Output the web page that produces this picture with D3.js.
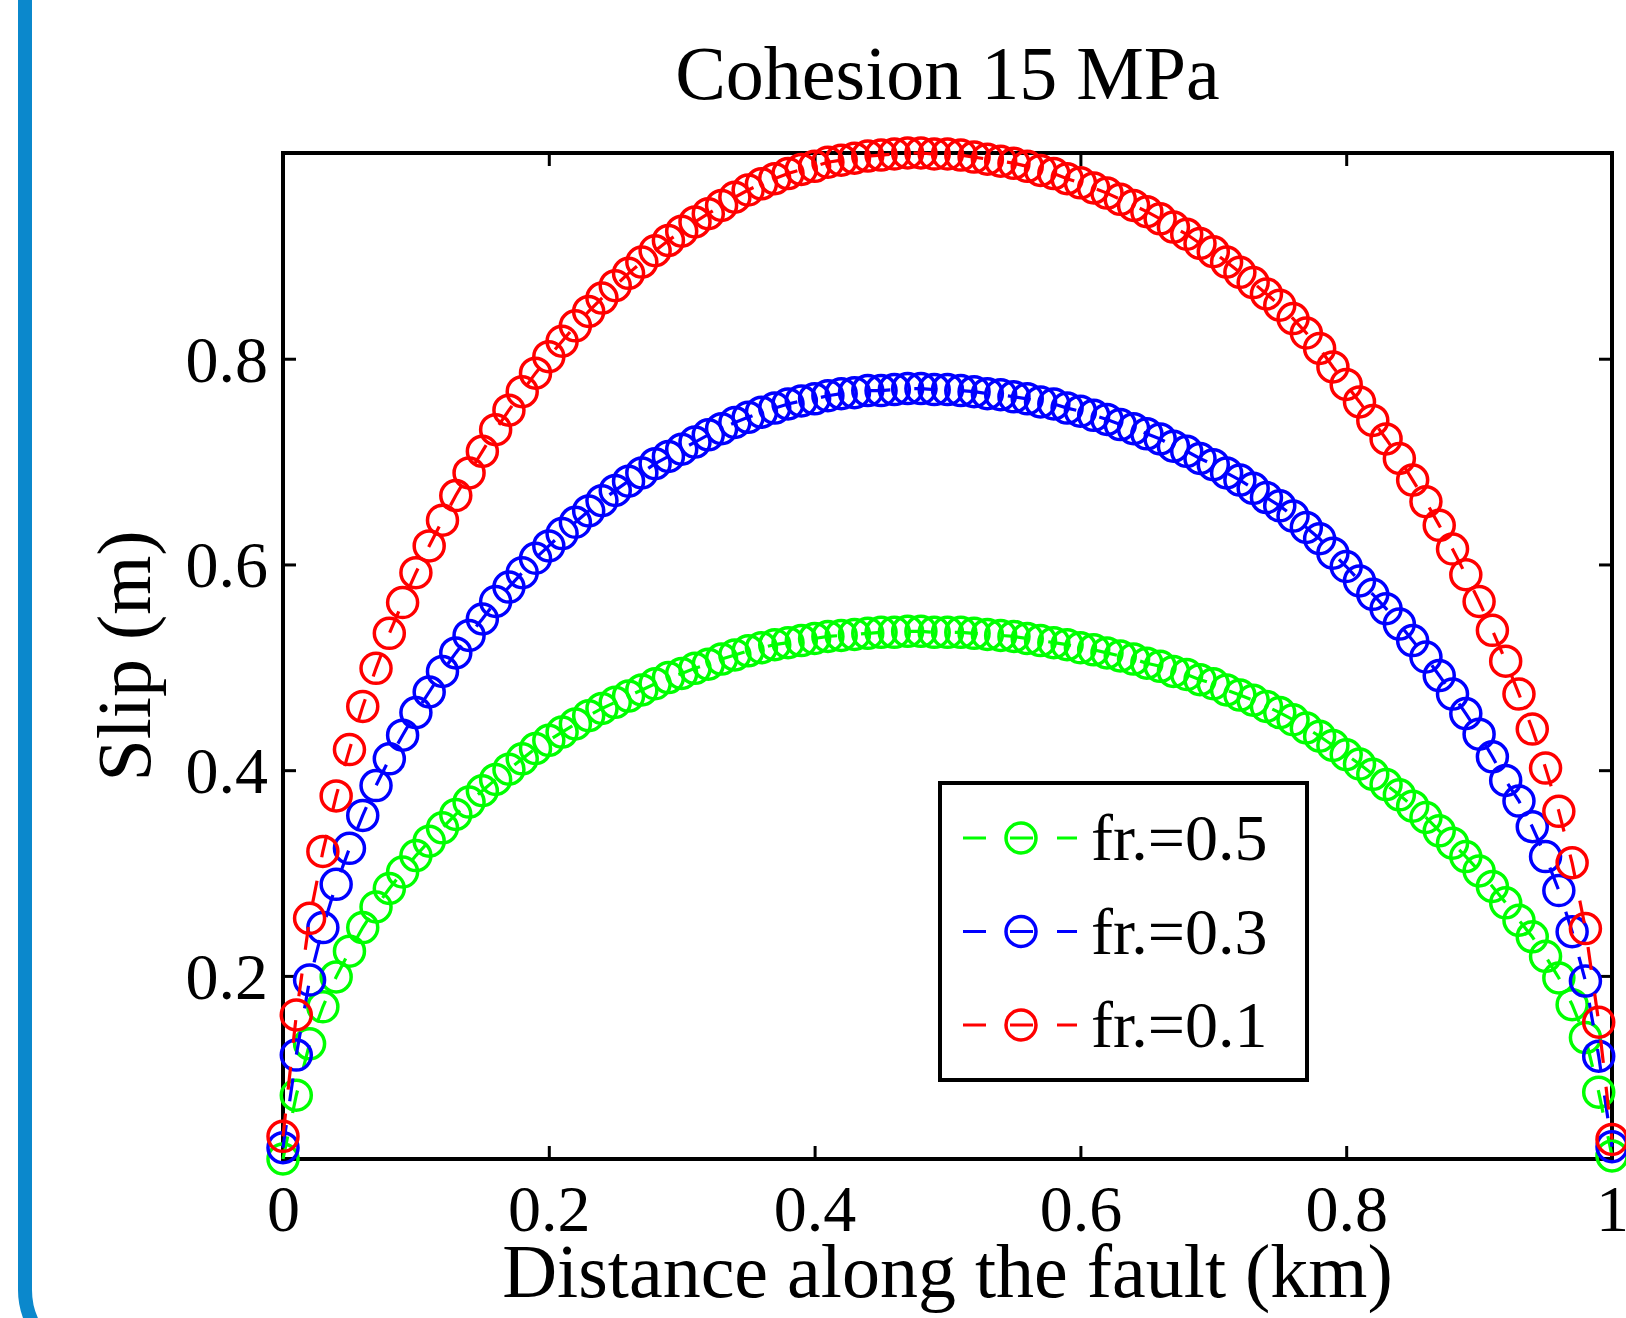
<!DOCTYPE html>
<html>
<head>
<meta charset="utf-8">
<script src="https://cdn.jsdelivr.net/npm/d3@7"></script>
<style>
  body { margin: 0; background: #fff; }
  svg { display: block; }
</style>
</head>
<body>
<div class="chartHolder"></div>
<script>
var distance = [0, 0.01, 0.02, 0.03, 0.04, 0.05, 0.06, 0.07, 0.08, 0.09,
  0.1, 0.11, 0.12, 0.13, 0.14, 0.15, 0.16, 0.17, 0.18, 0.19,
  0.2, 0.21, 0.22, 0.23, 0.24, 0.25, 0.26, 0.27, 0.28, 0.29,
  0.3, 0.31, 0.32, 0.33, 0.34, 0.35, 0.36, 0.37, 0.38, 0.39,
  0.4, 0.41, 0.42, 0.43, 0.44, 0.45, 0.46, 0.47, 0.48, 0.49,
  0.5, 0.51, 0.52, 0.53, 0.54, 0.55, 0.56, 0.57, 0.58, 0.59,
  0.6, 0.61, 0.62, 0.63, 0.64, 0.65, 0.66, 0.67, 0.68, 0.69,
  0.7, 0.71, 0.72, 0.73, 0.74, 0.75, 0.76, 0.77, 0.78, 0.79,
  0.8, 0.81, 0.82, 0.83, 0.84, 0.85, 0.86, 0.87, 0.88, 0.89,
  0.9, 0.91, 0.92, 0.93, 0.94, 0.95, 0.96, 0.97, 0.98, 0.99,
  1];

// slip (m), friction 0.5
var slipFr05 = [0.022, 0.084, 0.134, 0.170, 0.199, 0.224, 0.247, 0.267, 0.285, 0.301,
  0.317, 0.331, 0.344, 0.357, 0.369, 0.380, 0.391, 0.401, 0.411, 0.421,
  0.429, 0.437, 0.445, 0.453, 0.460, 0.466, 0.472, 0.478, 0.484, 0.490,
  0.494, 0.499, 0.503, 0.508, 0.512, 0.516, 0.519, 0.522, 0.524, 0.526,
  0.528, 0.530, 0.531, 0.532, 0.533, 0.534, 0.534, 0.535, 0.535, 0.534,
  0.534, 0.534, 0.533, 0.532, 0.531, 0.530, 0.528, 0.526, 0.524, 0.522,
  0.519, 0.517, 0.514, 0.511, 0.508, 0.504, 0.501, 0.496, 0.493, 0.488,
  0.484, 0.478, 0.473, 0.468, 0.462, 0.456, 0.449, 0.441, 0.433, 0.424,
  0.415, 0.406, 0.396, 0.386, 0.376, 0.365, 0.354, 0.341, 0.329, 0.316,
  0.302, 0.287, 0.271, 0.254, 0.238, 0.219, 0.198, 0.172, 0.140, 0.087,
  0.025];

// slip (m), friction 0.3
var slipFr03 = [0.033, 0.123, 0.196, 0.247, 0.289, 0.324, 0.356, 0.385, 0.411, 0.434,
  0.456, 0.476, 0.496, 0.514, 0.531, 0.547, 0.564, 0.578, 0.592, 0.606,
  0.618, 0.630, 0.641, 0.652, 0.662, 0.672, 0.681, 0.689, 0.698, 0.705,
  0.712, 0.719, 0.726, 0.732, 0.738, 0.743, 0.748, 0.752, 0.756, 0.759,
  0.761, 0.764, 0.766, 0.767, 0.769, 0.769, 0.770, 0.771, 0.771, 0.770,
  0.770, 0.769, 0.768, 0.766, 0.765, 0.763, 0.761, 0.758, 0.756, 0.752,
  0.749, 0.745, 0.741, 0.736, 0.732, 0.727, 0.722, 0.715, 0.710, 0.703,
  0.697, 0.689, 0.682, 0.674, 0.665, 0.657, 0.647, 0.636, 0.625, 0.611,
  0.598, 0.584, 0.571, 0.557, 0.542, 0.526, 0.510, 0.492, 0.474, 0.455,
  0.435, 0.413, 0.390, 0.370, 0.345, 0.316, 0.283, 0.243, 0.195, 0.122,
  0.034];

// slip (m), friction 0.1
var slipFr01 = [0.044, 0.162, 0.256, 0.321, 0.375, 0.420, 0.462, 0.499, 0.533, 0.563,
  0.592, 0.618, 0.643, 0.667, 0.689, 0.710, 0.731, 0.750, 0.768, 0.786,
  0.802, 0.817, 0.832, 0.846, 0.859, 0.871, 0.883, 0.894, 0.905, 0.915,
  0.924, 0.933, 0.941, 0.949, 0.957, 0.964, 0.970, 0.975, 0.980, 0.984,
  0.987, 0.991, 0.993, 0.995, 0.997, 0.998, 0.999, 1.000, 1.000, 0.999,
  0.999, 0.998, 0.996, 0.994, 0.992, 0.990, 0.987, 0.983, 0.980, 0.975,
  0.971, 0.966, 0.961, 0.955, 0.949, 0.943, 0.936, 0.928, 0.921, 0.912,
  0.904, 0.894, 0.884, 0.874, 0.863, 0.852, 0.839, 0.825, 0.810, 0.792,
  0.775, 0.758, 0.740, 0.722, 0.703, 0.682, 0.661, 0.638, 0.615, 0.590,
  0.564, 0.536, 0.506, 0.474, 0.440, 0.402, 0.360, 0.310, 0.246, 0.155,
  0.041];

var seriesNames = ["fr.=0.5", "fr.=0.3", "fr.=0.1"];
var colors = ["#00ff00", "#0000ff", "#ff0000"];
var xTicks = [0, 0.2, 0.4, 0.6, 0.8, 1];
var xTickLabels = ["0", "0.2", "0.4", "0.6", "0.8", "1"];
var yTicks = [0.2, 0.4, 0.6, 0.8];
var yTickLabels = ["0.2", "0.4", "0.6", "0.8"];
var titleTxt = "Cohesion 15 MPa",
    xLabelTxt = "Distance along the fault (km)",
    yLabelTxt = "Slip (m)";

var font = "'Liberation Serif', 'Times New Roman', serif";
var svgW = 1626, svgH = 1318;
var margin = { top: 153, right: 14, bottom: 159, left: 283 },
    w = svgW - margin.left - margin.right,
    h = svgH - margin.top - margin.bottom;

var svg = d3.select(".chartHolder").append("svg").attr("width", svgW).attr("height", svgH);

// blue rounded frame on the left edge of the slide
svg.append("rect").attr("x", 25).attr("y", -300).attr("width", 2400).attr("height", 1664)
  .attr("rx", 74).attr("fill", "none").attr("stroke", "#0b88cc").attr("stroke-width", 14);

var series = [slipFr05, slipFr03, slipFr01].map(function (vals, i) {
  return { name: seriesNames[i], color: colors[i], points: vals.map(function (v, j) { return [distance[j], v]; }) };
});

var xScale = d3.scaleLinear().domain([0, 1]).range([0, w]);
var yScale = d3.scaleLinear().domain(d3.extent(slipFr05.concat(slipFr03, slipFr01))).range([h, 0]);

var g = svg.append("g").attr("transform", "translate(" + margin.left + "," + margin.top + ")");

// axes, ticks pointing inward on all four sides
var xAxis = d3.axisBottom(xScale).tickValues(xTicks).tickSize(-13).tickFormat(function (d, i) { return xTickLabels[i]; });
var yAxis = d3.axisLeft(yScale).tickValues(yTicks).tickSize(-13).tickFormat(function (d, i) { return yTickLabels[i]; });

var gx = g.append("g").attr("transform", "translate(0," + h + ")").call(xAxis);
gx.selectAll("text").attr("y", 72).attr("dy", null);
g.append("g").call(d3.axisTop(xScale).tickValues(xTicks).tickSize(-13).tickFormat(""));
var gy = g.append("g").call(yAxis);
gy.selectAll("text").attr("x", -15).attr("dy", "0.34em");
g.append("g").attr("transform", "translate(" + w + ",0)").call(d3.axisRight(yScale).tickValues(yTicks).tickSize(-13).tickFormat(""));

g.selectAll(".domain").remove();
g.selectAll(".tick line").attr("stroke", "#000").attr("stroke-width", 3);
g.selectAll(".tick text").attr("font-family", font).attr("font-size", 66).attr("fill", "#000");

g.append("rect").attr("width", w).attr("height", h).attr("fill", "none").attr("stroke", "#000").attr("stroke-width", 4);

// data: dashed line + open circles, one series at a time
var line = d3.line().x(function (d) { return xScale(d[0]); }).y(function (d) { return yScale(d[1]); });

series.forEach(function (s) {
  g.append("path").datum(s.points).attr("d", line).attr("fill", "none")
    .attr("stroke", s.color).attr("stroke-width", 3.2).attr("stroke-dasharray", "23,24");
  g.append("g").selectAll("circle").data(s.points).enter().append("circle")
    .attr("cx", function (d) { return xScale(d[0]); })
    .attr("cy", function (d) { return yScale(d[1]); })
    .attr("r", 15).attr("fill", "none").attr("stroke", s.color).attr("stroke-width", 3.5);
});

// legend
var legend = g.append("g").attr("transform", "translate(657,630)");
legend.append("rect").attr("width", 367).attr("height", 297).attr("fill", "#fff").attr("stroke", "#000").attr("stroke-width", 4);
var rows = legend.selectAll(".row").data(series).enter().append("g").attr("class", "row")
  .attr("transform", function (d, i) { return "translate(0," + (55 + i * 93.5) + ")"; });
rows.append("line").attr("x1", 23).attr("x2", 137).attr("stroke", function (d) { return d.color; })
  .attr("stroke-width", 3.2).attr("stroke-dasharray", "23,24");
rows.append("circle").attr("cx", 81).attr("r", 15).attr("fill", "none")
  .attr("stroke", function (d) { return d.color; }).attr("stroke-width", 3.5);
rows.append("text").attr("x", 151).attr("y", 22).text(function (d) { return d.name; })
  .attr("font-family", font).attr("font-size", 66).attr("fill", "#000");

// title and axis labels
g.append("text").attr("x", w / 2).attr("y", -54).attr("text-anchor", "middle").text(titleTxt)
  .attr("font-family", font).attr("font-size", 76);
g.append("text").attr("x", w / 2).attr("y", h + 138).attr("text-anchor", "middle").text(xLabelTxt)
  .attr("font-family", font).attr("font-size", 76);
g.append("text").attr("transform", "translate(-133," + h / 2 + ") rotate(-90)").attr("text-anchor", "middle").text(yLabelTxt)
  .attr("font-family", font).attr("font-size", 76);
</script>
</body>
</html>
